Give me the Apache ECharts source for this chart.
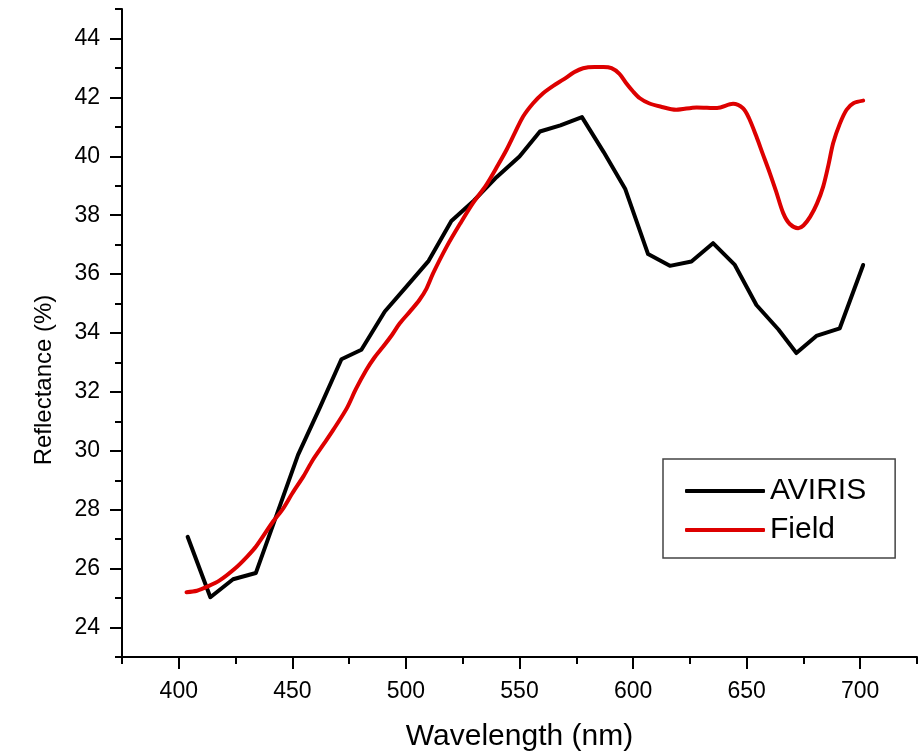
<!DOCTYPE html>
<html>
<head>
<meta charset="utf-8">
<script src="https://cdn.jsdelivr.net/npm/echarts@6/dist/echarts.min.js"></script>
<style>
  html, body { margin: 0; padding: 0; background: #fff; }
  #chart { width: 920px; height: 754px; }
</style>
</head>
<body>
<div id="chart"></div>
<script>
// values
const avirisNm = [403.9, 413.9, 423.9, 433.9, 443.2, 452.5, 462, 471.6, 480.4, 490.7, 500.5, 510, 520, 530, 540, 550, 559, 568, 577.5, 587, 596.5, 606.6, 616.2, 625.7, 635.2, 644.8, 654.3, 664, 671.9, 680.7, 691, 701.3]
const avirisVal = [27.08, 25.03, 25.64, 25.85, 27.85, 29.86, 31.45, 33.11, 33.43, 34.73, 35.6, 36.45, 37.8, 38.5, 39.3, 39.99, 40.84, 41.05, 41.33, 40.15, 38.9, 36.68, 36.28, 36.43, 37.05, 36.31, 34.95, 34.12, 33.32, 33.9, 34.16, 36.31]

const fieldNm = [403.4, 408, 412, 418, 425, 430, 434, 441.5, 446, 450, 455, 459, 464, 468, 474, 478, 482.6, 486, 490, 494, 497.3, 502, 506, 509, 512, 518, 524, 529.5, 535.4, 540.6, 544.3, 548, 551.6, 556, 560.4, 565, 569.2, 574, 578, 583, 587, 590.5, 594, 597, 600, 603, 607, 612, 619, 628, 637, 644, 648.4, 651, 654.3, 657, 660.2, 663, 666.1, 669, 672.7, 675, 678, 681, 683.7, 686, 688.1, 691, 694, 697, 701.3]
const fieldVal = [25.2, 25.25, 25.37, 25.6, 26.02, 26.4, 26.75, 27.6, 28.05, 28.56, 29.15, 29.69, 30.25, 30.71, 31.45, 32.1, 32.75, 33.15, 33.54, 33.95, 34.33, 34.75, 35.13, 35.5, 36.03, 36.94, 37.73, 38.41, 39.03, 39.71, 40.22, 40.8, 41.35, 41.8, 42.14, 42.4, 42.6, 42.85, 42.99, 43.03, 43.03, 42.99, 42.8, 42.48, 42.2, 41.97, 41.8, 41.69, 41.58, 41.66, 41.64, 41.78, 41.63, 41.3, 40.67, 40.1, 39.43, 38.8, 38.07, 37.7, 37.56, 37.65, 37.95, 38.4, 38.97, 39.7, 40.45, 41.1, 41.58, 41.8, 41.89]

// tick values
const xMajor = [400, 450, 500, 550, 600, 650, 700]
const xMinor = [375, 425, 475, 525, 575, 625, 675, 725]
const yMajor = [24, 26, 28, 30, 32, 34, 36, 38, 40, 42, 44]
const yMinor = [23, 25, 27, 29, 31, 33, 35, 37, 39, 41, 43, 45]

const FONT = 'Liberation Sans, Arial, sans-serif'
const avirisData = avirisNm.map((x, i) => [x, avirisVal[i]])
const fieldData = fieldNm.map((x, i) => [x, fieldVal[i]])

const myChart = echarts.init(document.getElementById('chart'))

const baseX = {
  type: 'value', min: 375, max: 725, gridIndex: 0, position: 'bottom',
  splitLine: { show: false }
}
const baseY = {
  type: 'value', min: 23, max: 45, gridIndex: 0, position: 'left',
  splitLine: { show: false }
}

myChart.setOption({
  animation: false,
  backgroundColor: '#fff',
  grid: { left: 122, right: 3, top: 9, bottom: 97, outerBoundsMode: 'none', containLabel: false },
  xAxis: [
    Object.assign({}, baseX, {
      name: 'Wavelength (nm)',
      nameLocation: 'middle',
      nameGap: 65,
      nameTextStyle: { fontFamily: FONT, fontSize: 30, color: '#000' },
      axisLine: { show: true, lineStyle: { color: '#000', width: 2 } },
      axisTick: { show: true, length: 12, lineStyle: { color: '#000', width: 2 }, customValues: xMajor },
      axisLabel: { fontFamily: FONT, fontSize: 23, color: '#000', margin: 23, customValues: xMajor }
    }),
    Object.assign({}, baseX, {
      axisLine: { show: false },
      axisTick: { show: true, length: 7, lineStyle: { color: '#000', width: 2 }, customValues: xMinor },
      axisLabel: { show: false }
    })
  ],
  yAxis: [
    Object.assign({}, baseY, {
      name: 'Reflectance (%)',
      nameLocation: 'middle',
      nameGap: 66,
      // the label sits a bit below the middle of the axis in the original
      nameTextStyle: { fontFamily: FONT, fontSize: 24, color: '#000', padding: [0, 94, 0, 0] },
      axisLine: { show: true, lineStyle: { color: '#000', width: 2 } },
      axisTick: { show: true, length: 12, lineStyle: { color: '#000', width: 2 }, customValues: yMajor },
      axisLabel: { fontFamily: FONT, fontSize: 23, color: '#000', margin: 22, customValues: yMajor }
    }),
    Object.assign({}, baseY, {
      axisLine: { show: false },
      axisTick: { show: true, length: 7, lineStyle: { color: '#000', width: 2 }, customValues: yMinor },
      axisLabel: { show: false }
    })
  ],
  legend: {
    orient: 'vertical',
    left: 663,
    top: 459,
    padding: [17, 29, 13, 22],
    icon: 'roundRect',
    itemWidth: 80,
    itemHeight: 4,
    itemGap: 9,
    borderColor: '#444',
    borderWidth: 1.5,
    textStyle: { fontFamily: FONT, fontSize: 30, lineHeight: 28, color: '#000' },
    data: ['AVIRIS', 'Field']
  },
  series: [
    {
      name: 'AVIRIS',
      type: 'line',
      symbol: 'none',
      xAxisIndex: 0,
      yAxisIndex: 0,
      lineStyle: { color: '#000', width: 4, cap: 'round', join: 'round' },
      itemStyle: { color: '#000' },
      data: avirisData
    },
    {
      name: 'Field',
      type: 'line',
      symbol: 'none',
      smooth: 0.3,
      xAxisIndex: 0,
      yAxisIndex: 0,
      lineStyle: { color: '#dd0000', width: 4, cap: 'round', join: 'round' },
      itemStyle: { color: '#dd0000' },
      data: fieldData
    }
  ]
})
</script>
</body>
</html>
